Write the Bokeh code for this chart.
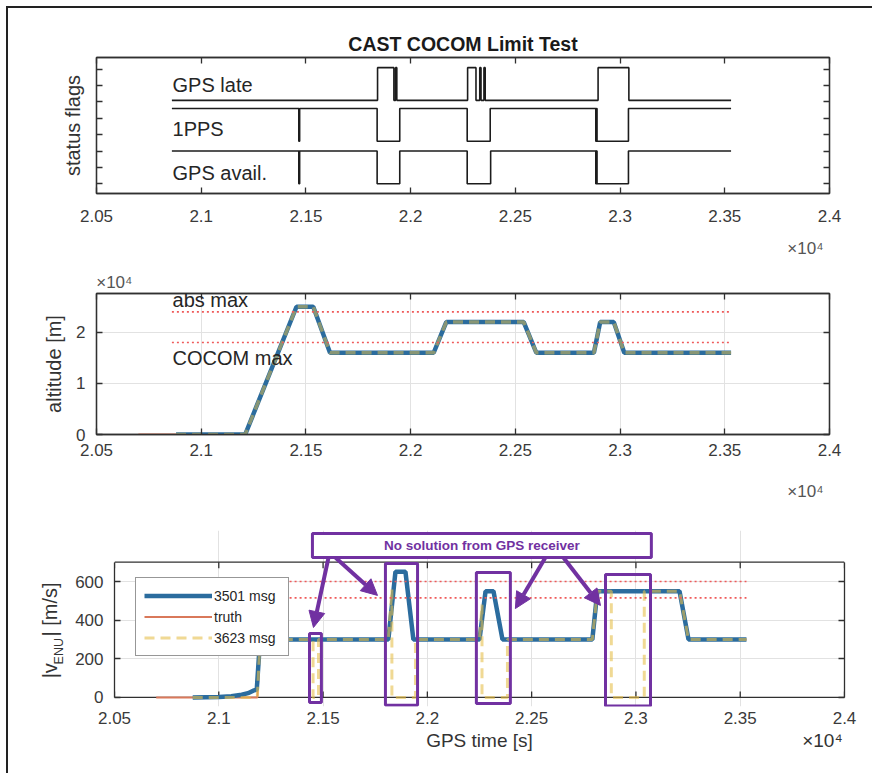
import math
from bokeh.plotting import figure
from bokeh.models import (Range1d, FixedTicker, LinearAxis, Label, BoxAnnotation,
                          Arrow, NormalHead, Legend, LegendItem)
from bokeh.layouts import column, row
from bokeh.embed import file_html
from bokeh.resources import INLINE

FONT = "Liberation Sans"
AX = "#303030"
TXT = "#3a3a3a"
PURPLE = "#7131a1"
BLUE = "#2b6c9e"
ORANGE = "#d9785a"
YELLOW = "#e6bf4c"
RED = "#ef5a5a"

# ---------------- data ----------------
x_ticks = [20500, 21000, 21500, 22000, 22500, 23000, 23500, 24000]
x_tick_labels = ["2.05", "2.1", "2.15", "2.2", "2.25", "2.3", "2.35", "2.4"]
x_exponent = "\u00d710\u2074"

# status flags: start/end time and toggle times (s)
flag_start, flag_end = 20860, 23530
gps_late_toggles = [21842, 21920, 21928, 21934, 22272, 22312, 22330, 22336, 22350, 22356, 22895, 23042]
pps_toggles = [21466, 21470, 21840, 21948, 22270, 22380, 22884, 22887, 22890, 23040]
avail_toggles = [21466, 21470, 21840, 21948, 22270, 22382, 22884, 22887, 22890, 23040]
gps_late_levels = (2.55, 3.55)
pps_levels = (1.3, 2.3)
avail_levels = (0.0, 1.0)
flag_y_ticks = [0, 0.5, 1, 1.5, 2, 2.5, 3, 3.5]

# altitude (m)
alt_truth_t = [20700, 21210, 21455, 21535, 21615, 22110, 22170, 22540, 22600, 22875, 22905, 22970, 23020, 23530]
alt_truth_v = [0, 0, 25000, 25000, 16000, 16000, 22000, 22000, 16000, 16000, 22000, 22000, 16000, 16000]
alt_msg_t = [20880, 21210, 21455, 21535, 21615, 22110, 22170, 22540, 22600, 22875, 22905, 22970, 23020, 23530]
alt_msg_v = [0, 0, 25000, 25000, 16000, 16000, 22000, 22000, 16000, 16000, 22000, 22000, 16000, 16000]
alt_abs_max = 24000
alt_cocom_max = 18000
alt_y_ticks = [0, 10000, 20000]
alt_y_labels = ["0", "1", "2"]

# velocity |v_ENU| (m/s)
vel_truth_t = [20700, 21185, 21200, 21813, 21847, 21895, 21933, 22250, 22279, 22317, 22360, 22791, 22815, 23209, 23252, 23530]
vel_truth_v = [0, 0, 300, 300, 650, 650, 300, 300, 550, 550, 300, 300, 550, 550, 300, 300]
vel_3501_t = [20875, 21000, 21060, 21110, 21140, 21165, 21182, 21198, 21813, 21847, 21895, 21933, 22250, 22279, 22317, 22360, 22791, 22815, 23209, 23252, 23530]
vel_3501_v = [0, 2, 6, 14, 22, 35, 40, 300, 300, 650, 650, 300, 300, 550, 550, 300, 300, 550, 550, 300, 300]
vel_3623_t = [20875, 21170, 21185, 21198, 21452, 21452, 21478, 21478, 21813, 21830, 21830, 21943, 21943,
              22250, 22262, 22262, 22384, 22384, 22791, 22815, 22882, 22882, 23040, 23040, 23209, 23252, 23530]
vel_3623_v = [0, 0, 10, 300, 300, 0, 0, 300, 300, 560, 0, 0, 300, 300, 480, 0, 0, 300, 300, 550, 550, 0, 0, 550, 550, 300, 300]
vel_abs_max = 600
vel_cocom_max = 515
vel_y_ticks = [0, 200, 400, 600]
vel_y_top = 700
limit_t = [20860, 23530]

# outage highlight boxes (left, right, bottom, top) in data units of the velocity panel
outage_boxes = [(21435, 21492, -26, 331), (21799, 21953, -41, 693),
                (22235, 22398, -31, 647), (22854, 23070, -45, 636)]
note_box = (21449, 23074, 724, 848)
note_text = "No solution from GPS receiver"
note_arrows = [(21526, 724, 21454, 362), (21559, 724, 21761, 528),
               (22566, 724, 22422, 460), (22652, 724, 22830, 476)]


def step_xy(t0, t1, toggles, lo, hi, start_high):
    high = start_high
    xs, ys = [t0], [hi if high else lo]
    for t in toggles:
        xs += [t, t]
        ys += [hi if high else lo, lo if high else hi]
        high = not high
    xs.append(t1)
    ys.append(hi if high else lo)
    return xs, ys


def make_fig(height, yr, left, right, top, bottom):
    p = figure(width=864, height=height, x_range=Range1d(20500, 24000), y_range=yr,
               output_backend="svg", toolbar_location=None, tools="",
               min_border_left=left, min_border_right=right,
               min_border_top=top, min_border_bottom=bottom)
    p.outline_line_color = AX
    p.outline_line_width = 1.3
    p.background_fill_color = "white"
    p.border_fill_color = "white"
    return p


def style_axis(ax, ticks, overrides=None, show=True, standoff=8, size="17px"):
    ax.ticker = FixedTicker(ticks=ticks)
    ax.axis_line_color = AX
    ax.axis_line_width = 1.3
    ax.major_tick_line_color = AX
    ax.major_tick_line_width = 1.3
    ax.major_tick_in = 6
    ax.major_tick_out = 0
    ax.minor_tick_in = 0
    ax.minor_tick_out = 0
    ax.minor_tick_line_color = None
    ax.major_label_text_font = FONT
    ax.major_label_standoff = standoff
    if overrides:
        ax.major_label_overrides = overrides
    if show:
        ax.major_label_text_color = TXT
        ax.major_label_text_font_size = size
    else:
        ax.major_label_text_color = None
        ax.major_label_text_alpha = 0
        ax.major_label_text_font_size = "0px"
        ax.major_label_standoff = 0


def text_axis(ticks, labels, standoff, size, color="#333333", vertical=False):
    ax = LinearAxis(ticker=FixedTicker(ticks=ticks),
                    major_label_overrides=dict(zip(ticks, labels)))
    ax.axis_line_color = None
    ax.major_tick_line_color = None
    ax.minor_tick_line_color = None
    ax.major_tick_in = 0
    ax.major_tick_out = 0
    ax.minor_tick_in = 0
    ax.minor_tick_out = 0
    ax.major_label_text_font = FONT
    ax.major_label_text_font_size = size
    ax.major_label_text_color = color
    ax.major_label_standoff = standoff
    if vertical:
        ax.major_label_orientation = "vertical"
    return ax


def ax_label(ax, text, standoff):
    ax.axis_label = text
    ax.axis_label_text_font = FONT
    ax.axis_label_text_font_size = "20px"
    ax.axis_label_text_font_style = "normal"
    ax.axis_label_text_color = "#333333"
    ax.axis_label_standoff = standoff


def lab(p, x, y, text, size="20px", color="#262626", align="left", baseline="middle", bold=False):
    p.add_layout(Label(x=x, y=y, text=text, text_font=FONT, text_font_size=size,
                       text_color=color, text_align=align, text_baseline=baseline,
                       text_font_style="bold" if bold else "normal"))


xover = dict(zip(x_ticks, x_tick_labels))

# ---------------- panel 1: status flags ----------------
p1 = make_fig(252, Range1d(-0.3, 3.86), 88, 43, 49, 64)
style_axis(p1.below[0], x_ticks, xover, True, 16)
style_axis(p1.left[0], flag_y_ticks, None, False)
t1 = LinearAxis(); style_axis(t1, x_ticks, None, False); p1.add_layout(t1, "above")
r1 = LinearAxis(); style_axis(r1, flag_y_ticks, None, False); p1.add_layout(r1, "right")
p1.add_layout(text_axis([23885], [x_exponent], 14, "17px", "#555555"), "below")
ax_label(p1.left[0], "status flags", 13)
p1.xgrid.visible = False
p1.ygrid.visible = False
p1.title.text = "CAST COCOM Limit Test"
p1.title.align = "center"
p1.title.text_font = FONT
p1.title.text_font_size = "19.5px"
p1.title.text_font_style = "bold"
p1.title.text_color = "#1a1a1a"
p1.title.standoff = 6
for tog, (lo, hi), start_high in [(gps_late_toggles, gps_late_levels, False),
                                  (pps_toggles, pps_levels, True),
                                  (avail_toggles, avail_levels, True)]:
    xs, ys = step_xy(flag_start, flag_end, tog, lo, hi, start_high)
    p1.line(xs, ys, line_color="#1c1c1c", line_width=1.6)
lab(p1, 20863, 3.02, "GPS late")
lab(p1, 20863, 1.67, "1PPS")
lab(p1, 20863, 0.33, "GPS avail.")

# ---------------- panel 2: altitude ----------------
p2 = make_fig(252, Range1d(0, 27600), 88, 43, 33, 78)
style_axis(p2.below[0], x_ticks, xover, True, 9)
style_axis(p2.left[0], alt_y_ticks, dict(zip(alt_y_ticks, alt_y_labels)), True, 11)
t2 = LinearAxis(); style_axis(t2, x_ticks, None, False); p2.add_layout(t2, "above")
r2 = LinearAxis(); style_axis(r2, alt_y_ticks, None, False); p2.add_layout(r2, "right")
p2.add_layout(text_axis([20585], [x_exponent], 2, "17px", "#555555"), "above")
p2.add_layout(text_axis([23885], [x_exponent], 23, "17px", "#555555"), "below")
ax_label(p2.left[0], "altitude [m]", 8)
for g in (p2.xgrid[0], p2.ygrid[0]):
    g.grid_line_color = "#e2e2e2"
p2.xgrid.ticker = FixedTicker(ticks=x_ticks)
p2.ygrid.ticker = FixedTicker(ticks=alt_y_ticks)
p2.line(alt_truth_t, alt_truth_v, line_color=ORANGE, line_width=2)
p2.line(alt_msg_t, alt_msg_v, line_color=BLUE, line_width=4.5)
p2.line(alt_msg_t, alt_msg_v, line_color=YELLOW, line_width=3.5, line_dash="10 6", line_alpha=0.5)
p2.line(limit_t, [alt_abs_max] * 2, line_color=RED, line_width=1.6, line_dash="2 3")
p2.line(limit_t, [alt_cocom_max] * 2, line_color=RED, line_width=1.6, line_dash="2 3")
lab(p2, 20863, 26270, "abs max")
lab(p2, 20863, 14880, "COCOM max")

# ---------------- panel 3: velocity ----------------
p3 = make_fig(261, Range1d(-47, 864), 106, 28, 18, 67)
p3.outline_line_color = None
bx = p3.below[0]
style_axis(bx, x_ticks, xover, True, 5)
bx.axis_line_color = None
bx.major_tick_line_color = None
ly = p3.left[0]
style_axis(ly, vel_y_ticks, None, True, 11)
ly.bounds = (0, vel_y_top)
ry = LinearAxis(); style_axis(ry, vel_y_ticks, None, False); ry.bounds = (0, vel_y_top)
p3.add_layout(ry, "right")
p3.add_layout(text_axis([22250, 23894], ["GPS time [s]", x_exponent], 3, "19px"), "below")
p3.add_layout(text_axis([239], ["ENU"], 6, "12.5px", vertical=True), "left")
p3.add_layout(text_axis([138, 455], ["|v", "| [m/s]"], -12, "20px", vertical=True), "left")
for g in (p3.xgrid[0], p3.ygrid[0]):
    g.grid_line_color = "#e2e2e2"
p3.xgrid.ticker = FixedTicker(ticks=x_ticks)
p3.xgrid.bounds = (0, vel_y_top)
p3.ygrid.ticker = FixedTicker(ticks=vel_y_ticks)
# axes box top and bottom edges with inward ticks (tick length 6 px = 31 data units)
tick_len = 31
p3.line([20500, 24000], [0, 0], line_color=AX, line_width=1.3)
p3.line([20500, 24000], [vel_y_top, vel_y_top], line_color=AX, line_width=1.3)
p3.segment(x0=x_ticks, y0=[0] * len(x_ticks), x1=x_ticks, y1=[tick_len] * len(x_ticks),
           line_color=AX, line_width=1.3)
p3.segment(x0=x_ticks, y0=[vel_y_top] * len(x_ticks), x1=x_ticks,
           y1=[vel_y_top - tick_len] * len(x_ticks), line_color=AX, line_width=1.3)

r_truth = p3.line(vel_truth_t, vel_truth_v, line_color=ORANGE, line_width=2)
r_3501 = p3.line(vel_3501_t, vel_3501_v, line_color=BLUE, line_width=4.5)
r_3623 = p3.line(vel_3623_t, vel_3623_v, line_color=YELLOW, line_width=3, line_dash="10 6", line_alpha=0.6)
p3.line(limit_t, [vel_abs_max] * 2, line_color=RED, line_width=1.6, line_dash="2 3")
p3.line(limit_t, [vel_cocom_max] * 2, line_color=RED, line_width=1.6, line_dash="2 3")

legend = Legend(items=[LegendItem(label="3501 msg", renderers=[r_3501]),
                       LegendItem(label="truth", renderers=[r_truth]),
                       LegendItem(label="3623 msg", renderers=[r_3623])],
                location=(21, 50), orientation="vertical",
                label_text_font=FONT, label_text_font_size="14px", label_text_color="#262626",
                glyph_width=68, glyph_height=19, label_height=19, label_width=66,
                label_standoff=2, spacing=2, padding=8, margin=0,
                border_line_color=AX, border_line_width=1.3, background_fill_color="white",
                background_fill_alpha=1.0)
p3.add_layout(legend)

for (l, r, b, t) in outage_boxes:
    p3.add_layout(BoxAnnotation(left=l, right=r, bottom=b, top=t, fill_alpha=0,
                                line_color=PURPLE, line_width=3, line_alpha=1))
p3.add_layout(BoxAnnotation(left=note_box[0], right=note_box[1], bottom=note_box[2], top=note_box[3],
                            fill_color="white", fill_alpha=1, line_color=PURPLE, line_width=3, line_alpha=1))
for (xs_, ys_, xe_, ye_) in note_arrows:
    p3.add_layout(Arrow(end=NormalHead(size=16, fill_color=PURPLE, line_color=PURPLE),
                        x_start=xs_, y_start=ys_, x_end=xe_, y_end=ye_,
                        line_color=PURPLE, line_width=4))
lab(p3, (note_box[0] + note_box[1]) / 2, (note_box[2] + note_box[3]) / 2,
    note_text, size="13.5px", color=PURPLE, align="center", bold=True)

layout = column(p1, p2, row(p3), styles={"border-left": "2px solid #222222",
                                         "border-top": "2px solid #222222",
                                         "margin-left": "6px", "margin-top": "6px"})

open("out.html", "w").write(file_html(layout, INLINE))
